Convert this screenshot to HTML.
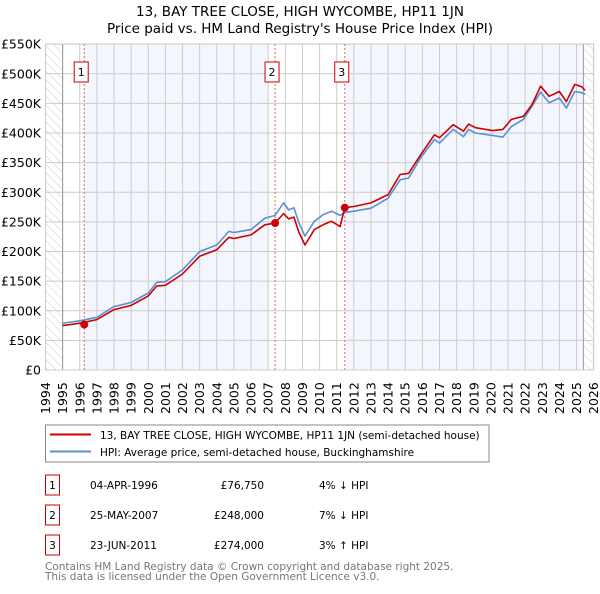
<!DOCTYPE html>
<html><head><meta charset="utf-8"><style>
body{margin:0;background:#fff;font-family:"DejaVu Sans","Liberation Sans",sans-serif}
svg text{font-family:"DejaVu Sans","Liberation Sans",sans-serif}
</style></head><body>
<svg id="c" width="600" height="590" xmlns="http://www.w3.org/2000/svg">
<defs><pattern id="hatch" width="6" height="6" patternUnits="userSpaceOnUse" patternTransform="rotate(-45)"><line x1="0" y1="0" x2="0" y2="6" stroke="#ccc" stroke-width="1"/></pattern></defs>
<text x="300" y="16" text-anchor="middle" font-size="13.5">13, BAY TREE CLOSE, HIGH WYCOMBE, HP11 1JN</text>
<text x="300" y="33" text-anchor="middle" font-size="13.5">Price paid vs. HM Land Registry's House Price Index (HPI)</text>
<g id="plot"></g>
<rect x="45.5" y="425" width="443.5" height="37" fill="#fff" stroke="#888"/>
<line x1="50" y1="434.5" x2="91" y2="434.5" stroke="#cc0000" stroke-width="2"/>
<text x="100" y="439" font-size="10.5">13, BAY TREE CLOSE, HIGH WYCOMBE, HP11 1JN (semi-detached house)</text>
<line x1="50" y1="451.5" x2="91" y2="451.5" stroke="#5b8fd4" stroke-width="2"/>
<text x="100" y="456" font-size="10.5">HPI: Average price, semi-detached house, Buckinghamshire</text>
<g id="tbl" font-size="10.5"></g>
<text x="45" y="570" font-size="10.5" fill="#777">Contains HM Land Registry data © Crown copyright and database right 2025.</text>
<text x="45" y="580" font-size="10.5" fill="#777">This data is licensed under the Open Government Licence v3.0.</text>
</svg>
<script>
const hpiYears=[1995,1995.5,1996,1997,1998,1999,2000,2000.5,2001,2002,2003,2004,2004.7,2005,2006,2006.8,2007.4,2007.9,2008.2,2008.5,2008.8,2009.15,2009.7,2010.2,2010.7,2011.2,2011.47,2012,2013,2014,2014.7,2015.2,2015.9,2016.7,2017,2017.8,2018.4,2018.7,2019.1,2020.1,2020.7,2021.2,2021.9,2022.4,2022.9,2023.4,2024,2024.4,2024.9,2025.3,2025.5];
const hpiValues=[79,81,83,89,107,114,130,148,149,169,200,211,234,232,237,256,261,282,270,274,248,226,251,262,268,261,266,268,273,290,321,324,358,389,383,406,394,406,400,396,393,411,423,445,469,451,459,442,470,468,465];
const priceValues=[75,77,79,85,102,109,125,142,143,162,192,203,224,222,228,245,248,264,255,258,232,211,237,245,251,242,274,276,282,296,330,332,363,397,392,414,403,415,409,404,406,423,428,448,479,462,470,453,482,478,472];
const saleYears=[1996.26,2007.4,2011.47];
const saleValues=[76.75,248,274];
const saleDates=["04-APR-1996","25-MAY-2007","23-JUN-2011"];
const salePrices=["£76,750","£248,000","£274,000"];
const saleDiffs=["4% ↓ HPI","7% ↓ HPI","3% ↑ HPI"];
const yTicks=[0,50,100,150,200,250,300,350,400,450,500,550];
const yTickLabels=["£0","£50K","£100K","£150K","£200K","£250K","£300K","£350K","£400K","£450K","£500K","£550K"];
const xTicks=[];for(let y=1994;y<=2026;y++)xTicks.push(y);

const NS="http://www.w3.org/2000/svg";
const X=y=>45.5+(y-1994)*17.13;
const Y=v=>370-v*0.5925;
const g=document.getElementById('plot');
function el(t,a,p){const e=document.createElementNS(NS,t);for(const k in a)e.setAttribute(k,a[k]);(p||g).appendChild(e);return e;}
let e;
e=el('rect',{x:45.5,y:44,width:548,height:326,fill:'#fff'});


e=el('rect',{x:X(saleYears[0]),y:44,width:X(2007.0)-X(saleYears[0]),height:326,fill:'#f3f6fd'});


e=el('rect',{x:X(saleYears[2]),y:44,width:X(2025.4)-X(saleYears[2]),height:326,fill:'#f3f6fd'});


e=el('rect',{x:45.5,y:44,width:X(1995)-45.5,height:326,fill:'url(#hatch)'});


e=el('rect',{x:X(2025.4),y:44,width:593.5-X(2025.4),height:326,fill:'url(#hatch)'});


yTicks.forEach((v,i)=>{
 e=el('line',{x1:45.5,x2:593.5,y1:Y(v),y2:Y(v),stroke:'#ccc'});
 
 
 e=el('text',{x:41,y:Y(v)+4.5,'text-anchor':'end','font-size':'12.5'});e.textContent=yTickLabels[i];
 
 
});
xTicks.forEach(y=>{
 e=el('line',{x1:X(y),x2:X(y),y1:44,y2:370,stroke:'#ccc'});
 
 
 e=el('text',{x:0,y:0,'font-size':'12.5',transform:`translate(${X(y)+4.5},414) rotate(-90)`});e.textContent=y;
 
 
});
e=el('line',{x1:X(1995),x2:X(1995),y1:44,y2:370,stroke:'#999'});


e=el('line',{x1:X(2025.4),x2:X(2025.4),y1:44,y2:370,stroke:'#999'});


e=el('rect',{x:45.5,y:44,width:548,height:326,fill:'none',stroke:'#ccc'});


saleYears.forEach((s,i)=>{
 e=el('line',{x1:X(s),x2:X(s),y1:44,y2:370,stroke:'#f06060','stroke-dasharray':'2,2'});
 
 
 e=el('rect',{x:X(s)-3-7,y:62,width:14,height:20,fill:'#fff',stroke:'#cc0000'});
 
 
 e=el('text',{x:X(s)-3,y:76,'text-anchor':'middle','font-size':'11'});e.textContent=String(i+1);
 
 
});
const pts=(ys,vs)=>ys.map((y,i)=>X(y).toFixed(1)+','+Y(vs[i]).toFixed(1)).join(' ');
e=el('polyline',{points:pts(hpiYears,hpiValues),fill:'none',stroke:'#5b8fd4','stroke-width':1.6,'stroke-linejoin':'round'});


e=el('polyline',{points:pts(hpiYears,priceValues),fill:'none',stroke:'#cc0000','stroke-width':1.6,'stroke-linejoin':'round'});


saleYears.forEach((s,i)=>{
 e=el('circle',{cx:X(s),cy:Y(saleValues[i]),r:4,fill:'#cc0000'});
 
 
});
const t=document.getElementById('tbl');
saleDates.forEach((d,i)=>{
 const cy=485+i*30;
 e=el('rect',{x:45.5,y:cy-10,width:14,height:20,fill:'#fff',stroke:'#cc0000'},t);
 
 
 e=el('text',{x:52.5,y:cy+4,'text-anchor':'middle'},t);e.textContent=String(i+1);
 
 
 e=el('text',{x:90,y:cy+4},t);e.textContent=d;
 
 
 e=el('text',{x:264,y:cy+4,'text-anchor':'end'},t);e.textContent=salePrices[i];
 
 
 e=el('text',{x:319,y:cy+4},t);e.textContent=saleDiffs[i];
 
 
});
</script>
</body></html>
